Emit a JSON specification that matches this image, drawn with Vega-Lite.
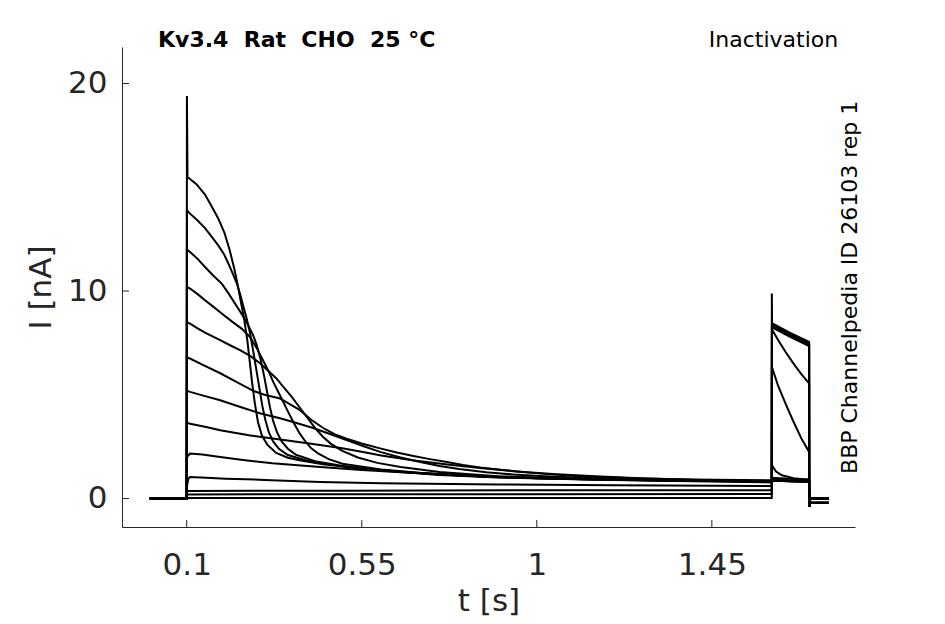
{
  "$schema": "https://vega.github.io/schema/vega-lite/v6.json",
  "width": 733,
  "height": 480,
  "autosize": {"type": "none"},
  "padding": {"left": 122, "top": 47, "right": 90, "bottom": 97},
  "background": "white",
  "config": {
    "view": {"stroke": null},
    "font": "DejaVu Sans",
    "axis": {
      "grid": false,
      "ticks": false,
      "domainColor": "#262626",
      "domainWidth": 1,
      "labelFont": "DejaVu Sans",
      "labelFontSize": 31,
      "labelColor": "#262626",
      "titleFont": "DejaVu Sans",
      "titleFontSize": 31,
      "titleFontWeight": "normal",
      "titleColor": "#262626"
    }
  },
  "layer": [
    {
      "data": {
        "values": [
          {"sweep": "A", "t": 0.005, "I": 0}, {"sweep": "A", "t": 0.1, "I": 0}, {"sweep": "A", "t": 0.1005, "I": 19.4}, {"sweep": "A", "t": 0.102, "I": 15.5}, {"sweep": "A", "t": 0.125, "I": 15.15}, {"sweep": "A", "t": 0.147, "I": 14.65}, {"sweep": "A", "t": 0.165, "I": 14.05}, {"sweep": "A", "t": 0.181, "I": 13.5}, {"sweep": "A", "t": 0.197, "I": 12.8}, {"sweep": "A", "t": 0.21, "I": 12.0}, {"sweep": "A", "t": 0.222, "I": 11.1}, {"sweep": "A", "t": 0.232, "I": 10.2}, {"sweep": "A", "t": 0.24, "I": 9.4}, {"sweep": "A", "t": 0.248, "I": 8.6}, {"sweep": "A", "t": 0.256, "I": 7.6}, {"sweep": "A", "t": 0.262, "I": 6.6}, {"sweep": "A", "t": 0.268, "I": 5.6}, {"sweep": "A", "t": 0.275, "I": 4.6}, {"sweep": "A", "t": 0.283, "I": 3.7}, {"sweep": "A", "t": 0.293, "I": 3.05}, {"sweep": "A", "t": 0.307, "I": 2.6}, {"sweep": "A", "t": 0.33, "I": 2.2}, {"sweep": "A", "t": 0.36, "I": 1.97}, {"sweep": "A", "t": 0.39, "I": 1.85}, {"sweep": "A", "t": 0.45, "I": 1.65}, {"sweep": "A", "t": 0.55, "I": 1.45}, {"sweep": "A", "t": 0.7, "I": 1.22}, {"sweep": "A", "t": 0.85, "I": 1.08}, {"sweep": "A", "t": 1.0, "I": 0.98}, {"sweep": "A", "t": 1.2, "I": 0.91}, {"sweep": "A", "t": 1.4, "I": 0.86}, {"sweep": "A", "t": 1.604, "I": 0.83}, {"sweep": "A", "t": 1.6045, "I": 0.88}, {"sweep": "A", "t": 1.65, "I": 0.84}, {"sweep": "A", "t": 1.7, "I": 0.8}, {"sweep": "A", "t": 1.7005, "I": -0.4}, {"sweep": "A", "t": 1.703, "I": 0.0}, {"sweep": "A", "t": 1.751, "I": 0.0},

          {"sweep": "B", "t": 0.005, "I": 0}, {"sweep": "B", "t": 0.1, "I": 0}, {"sweep": "B", "t": 0.1005, "I": 13.9}, {"sweep": "B", "t": 0.1085, "I": 13.73}, {"sweep": "B", "t": 0.128, "I": 13.4}, {"sweep": "B", "t": 0.147, "I": 13.03}, {"sweep": "B", "t": 0.165, "I": 12.6}, {"sweep": "B", "t": 0.181, "I": 12.2}, {"sweep": "B", "t": 0.195, "I": 11.8}, {"sweep": "B", "t": 0.207, "I": 11.33}, {"sweep": "B", "t": 0.218, "I": 10.85}, {"sweep": "B", "t": 0.229, "I": 10.36}, {"sweep": "B", "t": 0.238, "I": 9.8}, {"sweep": "B", "t": 0.246, "I": 9.23}, {"sweep": "B", "t": 0.255, "I": 8.6}, {"sweep": "B", "t": 0.263, "I": 7.95}, {"sweep": "B", "t": 0.271, "I": 7.1}, {"sweep": "B", "t": 0.279, "I": 6.2}, {"sweep": "B", "t": 0.287, "I": 5.3}, {"sweep": "B", "t": 0.294, "I": 4.5}, {"sweep": "B", "t": 0.302, "I": 3.8}, {"sweep": "B", "t": 0.311, "I": 3.2}, {"sweep": "B", "t": 0.322, "I": 2.75}, {"sweep": "B", "t": 0.337, "I": 2.4}, {"sweep": "B", "t": 0.36, "I": 2.1}, {"sweep": "B", "t": 0.41, "I": 1.82}, {"sweep": "B", "t": 0.5, "I": 1.56}, {"sweep": "B", "t": 0.6, "I": 1.37}, {"sweep": "B", "t": 0.75, "I": 1.16}, {"sweep": "B", "t": 0.9, "I": 1.04}, {"sweep": "B", "t": 1.1, "I": 0.94}, {"sweep": "B", "t": 1.35, "I": 0.87}, {"sweep": "B", "t": 1.604, "I": 0.84}, {"sweep": "B", "t": 1.6045, "I": 0.9}, {"sweep": "B", "t": 1.65, "I": 0.86}, {"sweep": "B", "t": 1.7, "I": 0.82}, {"sweep": "B", "t": 1.7005, "I": -0.4}, {"sweep": "B", "t": 1.703, "I": 0.0}, {"sweep": "B", "t": 1.751, "I": 0.0},

          {"sweep": "C", "t": 0.005, "I": 0}, {"sweep": "C", "t": 0.1, "I": 0}, {"sweep": "C", "t": 0.1005, "I": 12.0}, {"sweep": "C", "t": 0.1085, "I": 11.88}, {"sweep": "C", "t": 0.128, "I": 11.55}, {"sweep": "C", "t": 0.147, "I": 11.16}, {"sweep": "C", "t": 0.168, "I": 10.75}, {"sweep": "C", "t": 0.19, "I": 10.36}, {"sweep": "C", "t": 0.207, "I": 9.9}, {"sweep": "C", "t": 0.224, "I": 9.4}, {"sweep": "C", "t": 0.236, "I": 9.05}, {"sweep": "C", "t": 0.246, "I": 8.75}, {"sweep": "C", "t": 0.258, "I": 8.35}, {"sweep": "C", "t": 0.27, "I": 7.9}, {"sweep": "C", "t": 0.28, "I": 7.4}, {"sweep": "C", "t": 0.29, "I": 6.7}, {"sweep": "C", "t": 0.299, "I": 5.9}, {"sweep": "C", "t": 0.307, "I": 5.1}, {"sweep": "C", "t": 0.314, "I": 4.4}, {"sweep": "C", "t": 0.322, "I": 3.75}, {"sweep": "C", "t": 0.332, "I": 3.2}, {"sweep": "C", "t": 0.344, "I": 2.75}, {"sweep": "C", "t": 0.36, "I": 2.4}, {"sweep": "C", "t": 0.38, "I": 2.12}, {"sweep": "C", "t": 0.43, "I": 1.8}, {"sweep": "C", "t": 0.5, "I": 1.57}, {"sweep": "C", "t": 0.6, "I": 1.35}, {"sweep": "C", "t": 0.75, "I": 1.14}, {"sweep": "C", "t": 0.9, "I": 1.02}, {"sweep": "C", "t": 1.1, "I": 0.93}, {"sweep": "C", "t": 1.35, "I": 0.86}, {"sweep": "C", "t": 1.604, "I": 0.82}, {"sweep": "C", "t": 1.6045, "I": 0.86}, {"sweep": "C", "t": 1.65, "I": 0.83}, {"sweep": "C", "t": 1.7, "I": 0.8}, {"sweep": "C", "t": 1.7005, "I": -0.4}, {"sweep": "C", "t": 1.703, "I": 0.0}, {"sweep": "C", "t": 1.751, "I": 0.0},

          {"sweep": "D", "t": 0.005, "I": 0}, {"sweep": "D", "t": 0.1, "I": 0}, {"sweep": "D", "t": 0.1005, "I": 10.2}, {"sweep": "D", "t": 0.1085, "I": 10.12}, {"sweep": "D", "t": 0.128, "I": 9.85}, {"sweep": "D", "t": 0.147, "I": 9.56}, {"sweep": "D", "t": 0.168, "I": 9.25}, {"sweep": "D", "t": 0.19, "I": 8.92}, {"sweep": "D", "t": 0.215, "I": 8.55}, {"sweep": "D", "t": 0.241, "I": 8.19}, {"sweep": "D", "t": 0.262, "I": 7.8}, {"sweep": "D", "t": 0.28, "I": 7.25}, {"sweep": "D", "t": 0.295, "I": 6.7}, {"sweep": "D", "t": 0.31, "I": 6.15}, {"sweep": "D", "t": 0.323, "I": 5.6}, {"sweep": "D", "t": 0.335, "I": 5.15}, {"sweep": "D", "t": 0.347, "I": 4.7}, {"sweep": "D", "t": 0.36, "I": 4.2}, {"sweep": "D", "t": 0.375, "I": 3.65}, {"sweep": "D", "t": 0.39, "I": 3.15}, {"sweep": "D", "t": 0.405, "I": 2.75}, {"sweep": "D", "t": 0.42, "I": 2.42}, {"sweep": "D", "t": 0.44, "I": 2.15}, {"sweep": "D", "t": 0.465, "I": 1.9}, {"sweep": "D", "t": 0.5, "I": 1.68}, {"sweep": "D", "t": 0.6, "I": 1.4}, {"sweep": "D", "t": 0.75, "I": 1.16}, {"sweep": "D", "t": 0.9, "I": 1.03}, {"sweep": "D", "t": 1.1, "I": 0.94}, {"sweep": "D", "t": 1.35, "I": 0.87}, {"sweep": "D", "t": 1.604, "I": 0.83}, {"sweep": "D", "t": 1.6045, "I": 0.87}, {"sweep": "D", "t": 1.65, "I": 0.84}, {"sweep": "D", "t": 1.7, "I": 0.81}, {"sweep": "D", "t": 1.7005, "I": -0.4}, {"sweep": "D", "t": 1.703, "I": 0.0}, {"sweep": "D", "t": 1.751, "I": 0.0},

          {"sweep": "E", "t": 0.005, "I": 0}, {"sweep": "E", "t": 0.1, "I": 0}, {"sweep": "E", "t": 0.1005, "I": 8.5}, {"sweep": "E", "t": 0.1085, "I": 8.43}, {"sweep": "E", "t": 0.128, "I": 8.2}, {"sweep": "E", "t": 0.147, "I": 8.0}, {"sweep": "E", "t": 0.186, "I": 7.63}, {"sweep": "E", "t": 0.21, "I": 7.4}, {"sweep": "E", "t": 0.237, "I": 7.15}, {"sweep": "E", "t": 0.265, "I": 6.85}, {"sweep": "E", "t": 0.29, "I": 6.5}, {"sweep": "E", "t": 0.31, "I": 6.15}, {"sweep": "E", "t": 0.33, "I": 5.8}, {"sweep": "E", "t": 0.35, "I": 5.35}, {"sweep": "E", "t": 0.37, "I": 4.9}, {"sweep": "E", "t": 0.39, "I": 4.4}, {"sweep": "E", "t": 0.41, "I": 3.9}, {"sweep": "E", "t": 0.43, "I": 3.4}, {"sweep": "E", "t": 0.45, "I": 2.98}, {"sweep": "E", "t": 0.47, "I": 2.65}, {"sweep": "E", "t": 0.5, "I": 2.3}, {"sweep": "E", "t": 0.54, "I": 1.98}, {"sweep": "E", "t": 0.59, "I": 1.72}, {"sweep": "E", "t": 0.65, "I": 1.52}, {"sweep": "E", "t": 0.75, "I": 1.28}, {"sweep": "E", "t": 0.9, "I": 1.08}, {"sweep": "E", "t": 1.1, "I": 0.96}, {"sweep": "E", "t": 1.35, "I": 0.89}, {"sweep": "E", "t": 1.604, "I": 0.85}, {"sweep": "E", "t": 1.6045, "I": 0.92}, {"sweep": "E", "t": 1.65, "I": 0.88}, {"sweep": "E", "t": 1.7, "I": 0.85}, {"sweep": "E", "t": 1.7005, "I": -0.4}, {"sweep": "E", "t": 1.703, "I": 0.0}, {"sweep": "E", "t": 1.751, "I": 0.0},

          {"sweep": "F", "t": 0.005, "I": 0}, {"sweep": "F", "t": 0.1, "I": 0}, {"sweep": "F", "t": 0.1005, "I": 6.8}, {"sweep": "F", "t": 0.1085, "I": 6.75}, {"sweep": "F", "t": 0.14, "I": 6.45}, {"sweep": "F", "t": 0.185, "I": 6.05}, {"sweep": "F", "t": 0.23, "I": 5.6}, {"sweep": "F", "t": 0.27, "I": 5.2}, {"sweep": "F", "t": 0.3, "I": 5.0}, {"sweep": "F", "t": 0.34, "I": 4.82}, {"sweep": "F", "t": 0.365, "I": 4.55}, {"sweep": "F", "t": 0.391, "I": 4.26}, {"sweep": "F", "t": 0.42, "I": 3.8}, {"sweep": "F", "t": 0.451, "I": 3.4}, {"sweep": "F", "t": 0.48, "I": 3.1}, {"sweep": "F", "t": 0.511, "I": 2.88}, {"sweep": "F", "t": 0.55, "I": 2.65}, {"sweep": "F", "t": 0.597, "I": 2.42}, {"sweep": "F", "t": 0.64, "I": 2.22}, {"sweep": "F", "t": 0.683, "I": 2.05}, {"sweep": "F", "t": 0.725, "I": 1.9}, {"sweep": "F", "t": 0.769, "I": 1.76}, {"sweep": "F", "t": 0.81, "I": 1.62}, {"sweep": "F", "t": 0.854, "I": 1.5}, {"sweep": "F", "t": 0.9, "I": 1.4}, {"sweep": "F", "t": 0.94, "I": 1.32}, {"sweep": "F", "t": 1.02, "I": 1.19}, {"sweep": "F", "t": 1.111, "I": 1.08}, {"sweep": "F", "t": 1.25, "I": 0.98}, {"sweep": "F", "t": 1.4, "I": 0.92}, {"sweep": "F", "t": 1.604, "I": 0.88}, {"sweep": "F", "t": 1.6045, "I": 1.0}, {"sweep": "F", "t": 1.65, "I": 0.95}, {"sweep": "F", "t": 1.7, "I": 0.92}, {"sweep": "F", "t": 1.7005, "I": -0.4}, {"sweep": "F", "t": 1.703, "I": 0.0}, {"sweep": "F", "t": 1.751, "I": 0.0},

          {"sweep": "G", "t": 0.005, "I": 0}, {"sweep": "G", "t": 0.1, "I": 0}, {"sweep": "G", "t": 0.1005, "I": 5.2}, {"sweep": "G", "t": 0.1085, "I": 5.14}, {"sweep": "G", "t": 0.145, "I": 4.95}, {"sweep": "G", "t": 0.186, "I": 4.74}, {"sweep": "G", "t": 0.24, "I": 4.4}, {"sweep": "G", "t": 0.29, "I": 4.1}, {"sweep": "G", "t": 0.34, "I": 3.87}, {"sweep": "G", "t": 0.38, "I": 3.65}, {"sweep": "G", "t": 0.425, "I": 3.4}, {"sweep": "G", "t": 0.47, "I": 3.1}, {"sweep": "G", "t": 0.511, "I": 2.82}, {"sweep": "G", "t": 0.555, "I": 2.52}, {"sweep": "G", "t": 0.597, "I": 2.25}, {"sweep": "G", "t": 0.65, "I": 1.98}, {"sweep": "G", "t": 0.7, "I": 1.76}, {"sweep": "G", "t": 0.75, "I": 1.57}, {"sweep": "G", "t": 0.8, "I": 1.42}, {"sweep": "G", "t": 0.87, "I": 1.27}, {"sweep": "G", "t": 0.94, "I": 1.16}, {"sweep": "G", "t": 1.02, "I": 1.07}, {"sweep": "G", "t": 1.111, "I": 1.0}, {"sweep": "G", "t": 1.3, "I": 0.9}, {"sweep": "G", "t": 1.45, "I": 0.85}, {"sweep": "G", "t": 1.604, "I": 0.82}, {"sweep": "G", "t": 1.6045, "I": 1.6}, {"sweep": "G", "t": 1.615, "I": 1.3}, {"sweep": "G", "t": 1.63, "I": 1.12}, {"sweep": "G", "t": 1.66, "I": 0.98}, {"sweep": "G", "t": 1.7, "I": 0.9}, {"sweep": "G", "t": 1.7005, "I": -0.4}, {"sweep": "G", "t": 1.703, "I": 0.0}, {"sweep": "G", "t": 1.751, "I": 0.0},

          {"sweep": "H", "t": 0.005, "I": 0}, {"sweep": "H", "t": 0.1, "I": 0}, {"sweep": "H", "t": 0.1005, "I": 3.65}, {"sweep": "H", "t": 0.1085, "I": 3.61}, {"sweep": "H", "t": 0.15, "I": 3.45}, {"sweep": "H", "t": 0.186, "I": 3.29}, {"sweep": "H", "t": 0.26, "I": 3.05}, {"sweep": "H", "t": 0.34, "I": 2.85}, {"sweep": "H", "t": 0.42, "I": 2.64}, {"sweep": "H", "t": 0.5, "I": 2.42}, {"sweep": "H", "t": 0.56, "I": 2.22}, {"sweep": "H", "t": 0.6, "I": 2.08}, {"sweep": "H", "t": 0.68, "I": 1.85}, {"sweep": "H", "t": 0.77, "I": 1.64}, {"sweep": "H", "t": 0.86, "I": 1.46}, {"sweep": "H", "t": 0.95, "I": 1.31}, {"sweep": "H", "t": 1.05, "I": 1.17}, {"sweep": "H", "t": 1.15, "I": 1.07}, {"sweep": "H", "t": 1.28, "I": 0.97}, {"sweep": "H", "t": 1.42, "I": 0.9}, {"sweep": "H", "t": 1.604, "I": 0.83}, {"sweep": "H", "t": 1.6045, "I": 6.34}, {"sweep": "H", "t": 1.62, "I": 5.45}, {"sweep": "H", "t": 1.64, "I": 4.55}, {"sweep": "H", "t": 1.66, "I": 3.7}, {"sweep": "H", "t": 1.68, "I": 2.9}, {"sweep": "H", "t": 1.7, "I": 2.25}, {"sweep": "H", "t": 1.7005, "I": -0.4}, {"sweep": "H", "t": 1.703, "I": -0.2}, {"sweep": "H", "t": 1.751, "I": -0.2},

          {"sweep": "I", "t": 0.005, "I": 0}, {"sweep": "I", "t": 0.1, "I": 0}, {"sweep": "I", "t": 0.1005, "I": 2.0}, {"sweep": "I", "t": 0.1085, "I": 2.17}, {"sweep": "I", "t": 0.14, "I": 2.12}, {"sweep": "I", "t": 0.186, "I": 2.0}, {"sweep": "I", "t": 0.25, "I": 1.85}, {"sweep": "I", "t": 0.32, "I": 1.7}, {"sweep": "I", "t": 0.443, "I": 1.52}, {"sweep": "I", "t": 0.55, "I": 1.38}, {"sweep": "I", "t": 0.65, "I": 1.27}, {"sweep": "I", "t": 0.777, "I": 1.17}, {"sweep": "I", "t": 0.88, "I": 1.07}, {"sweep": "I", "t": 1.0, "I": 0.98}, {"sweep": "I", "t": 1.2, "I": 0.9}, {"sweep": "I", "t": 1.4, "I": 0.83}, {"sweep": "I", "t": 1.604, "I": 0.78}, {"sweep": "I", "t": 1.6045, "I": 8.15}, {"sweep": "I", "t": 1.62, "I": 7.65}, {"sweep": "I", "t": 1.64, "I": 7.05}, {"sweep": "I", "t": 1.66, "I": 6.5}, {"sweep": "I", "t": 1.68, "I": 6.0}, {"sweep": "I", "t": 1.7, "I": 5.55}, {"sweep": "I", "t": 1.7005, "I": -0.4}, {"sweep": "I", "t": 1.703, "I": -0.2}, {"sweep": "I", "t": 1.751, "I": -0.2},

          {"sweep": "J", "t": 0.005, "I": 0}, {"sweep": "J", "t": 0.1, "I": 0}, {"sweep": "J", "t": 0.1005, "I": 0.6}, {"sweep": "J", "t": 0.104, "I": 0.95}, {"sweep": "J", "t": 0.1085, "I": 1.04}, {"sweep": "J", "t": 0.15, "I": 1.0}, {"sweep": "J", "t": 0.2, "I": 0.96}, {"sweep": "J", "t": 0.3, "I": 0.9}, {"sweep": "J", "t": 0.443, "I": 0.8}, {"sweep": "J", "t": 0.6, "I": 0.74}, {"sweep": "J", "t": 0.9, "I": 0.68}, {"sweep": "J", "t": 1.2, "I": 0.64}, {"sweep": "J", "t": 1.604, "I": 0.6}, {"sweep": "J", "t": 1.6045, "I": 8.45}, {"sweep": "J", "t": 1.65, "I": 8.0}, {"sweep": "J", "t": 1.7, "I": 7.55}, {"sweep": "J", "t": 1.7005, "I": -0.4}, {"sweep": "J", "t": 1.703, "I": -0.2}, {"sweep": "J", "t": 1.751, "I": -0.2},

          {"sweep": "K", "t": 0.005, "I": 0}, {"sweep": "K", "t": 0.1, "I": 0}, {"sweep": "K", "t": 0.1005, "I": 0.37}, {"sweep": "K", "t": 0.5, "I": 0.38}, {"sweep": "K", "t": 1.0, "I": 0.4}, {"sweep": "K", "t": 1.604, "I": 0.4}, {"sweep": "K", "t": 1.6042, "I": 9.88}, {"sweep": "K", "t": 1.6048, "I": 8.4}, {"sweep": "K", "t": 1.65, "I": 7.93}, {"sweep": "K", "t": 1.7, "I": 7.48}, {"sweep": "K", "t": 1.7005, "I": -0.4}, {"sweep": "K", "t": 1.703, "I": -0.2}, {"sweep": "K", "t": 1.751, "I": -0.2},

          {"sweep": "L", "t": 0.005, "I": 0}, {"sweep": "L", "t": 0.1, "I": 0}, {"sweep": "L", "t": 0.1005, "I": 0.2}, {"sweep": "L", "t": 0.8, "I": 0.21}, {"sweep": "L", "t": 1.604, "I": 0.22}, {"sweep": "L", "t": 1.6045, "I": 8.32}, {"sweep": "L", "t": 1.65, "I": 7.86}, {"sweep": "L", "t": 1.7, "I": 7.4}, {"sweep": "L", "t": 1.7005, "I": -0.4}, {"sweep": "L", "t": 1.703, "I": -0.2}, {"sweep": "L", "t": 1.751, "I": -0.2},

          {"sweep": "M", "t": 0.005, "I": 0}, {"sweep": "M", "t": 0.1, "I": 0}, {"sweep": "M", "t": 0.1005, "I": 0.03}, {"sweep": "M", "t": 1.604, "I": 0.03}, {"sweep": "M", "t": 1.6045, "I": 8.25}, {"sweep": "M", "t": 1.65, "I": 7.8}, {"sweep": "M", "t": 1.7, "I": 7.35}, {"sweep": "M", "t": 1.7005, "I": -0.4}, {"sweep": "M", "t": 1.703, "I": 0.0}, {"sweep": "M", "t": 1.751, "I": 0.0}
        ]
      },
      "mark": {"type": "line", "color": "black", "strokeWidth": 2},
      "encoding": {
        "x": {
          "field": "t",
          "type": "quantitative",
          "scale": {"domain": [-0.0664, 1.818], "nice": false, "zero": false},
          "axis": {"title": "t [s]", "values": [0.1, 0.55, 1, 1.45], "format": ".3~g", "labelPadding": 23, "titlePadding": 6}
        },
        "y": {
          "field": "I",
          "type": "quantitative",
          "scale": {"domain": [-1.37, 21.76], "nice": false, "zero": false},
          "axis": {"title": "I [nA]", "values": [0, 10, 20], "format": "d", "labelPadding": 15, "titlePadding": 10}
        },
        "detail": {"field": "sweep"}
      }
    },
    {
      "data": {"values": [{"tick": 0.1}, {"tick": 0.55}, {"tick": 1}, {"tick": 1.45}]},
      "mark": {"type": "rule", "color": "#262626", "strokeWidth": 1},
      "encoding": {
        "x": {"field": "tick", "type": "quantitative"},
        "y": {"datum": -1.37, "type": "quantitative"},
        "y2": {"datum": -1.03}
      }
    },
    {
      "data": {"values": [{"tick": 0}, {"tick": 10}, {"tick": 20}]},
      "mark": {"type": "rule", "color": "#262626", "strokeWidth": 1},
      "encoding": {
        "y": {"field": "tick", "type": "quantitative"},
        "x": {"datum": -0.0664, "type": "quantitative"},
        "x2": {"datum": -0.0484}
      }
    },
    {
      "data": {"values": [{}]},
      "mark": {"type": "text", "text": "Kv3.4\u00a0\u00a0Rat\u00a0\u00a0CHO\u00a0\u00a025\u00a0°C", "align": "left", "baseline": "alphabetic", "font": "DejaVu Sans", "fontSize": 22, "fontWeight": "bold", "color": "black"},
      "encoding": {
        "x": {"datum": 0.0262, "type": "quantitative"},
        "y": {"datum": 21.77, "type": "quantitative"}
      }
    },
    {
      "data": {"values": [{}]},
      "mark": {"type": "text", "text": "Inactivation", "align": "right", "baseline": "alphabetic", "font": "DejaVu Sans", "fontSize": 22, "color": "black"},
      "encoding": {
        "x": {"datum": 1.7747, "type": "quantitative"},
        "y": {"datum": 21.77, "type": "quantitative"}
      }
    },
    {
      "data": {"values": [{}]},
      "mark": {"type": "text", "text": "BBP Channelpedia ID 26103 rep 1", "angle": 270, "align": "center", "baseline": "middle", "font": "DejaVu Sans", "fontSize": 22, "color": "black"},
      "encoding": {
        "x": {"datum": 1.8056, "type": "quantitative"},
        "y": {"datum": 10.18, "type": "quantitative"}
      }
    }
  ]
}
